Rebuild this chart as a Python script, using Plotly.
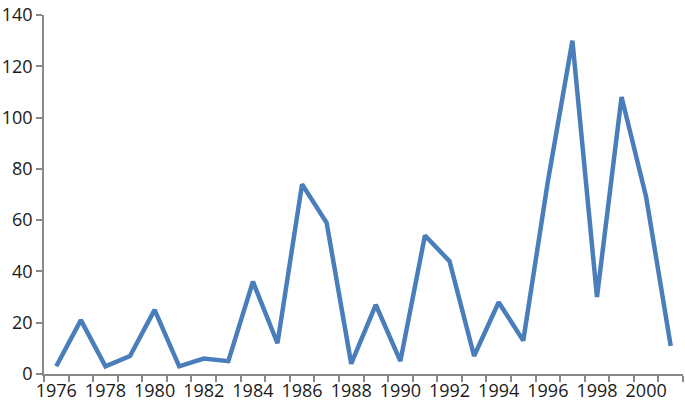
import plotly.graph_objects as go

years = list(range(1976, 2002))
counts = [3, 21, 3, 7, 25, 3, 6, 5, 36, 12, 74, 59, 4, 27, 5, 54, 44, 7, 28, 13, 75, 130, 30, 108, 69, 11]
year_labels = list(range(1976, 2001, 2))
y_ticks = list(range(0, 141, 20))

fig = go.Figure()
fig.add_trace(go.Scatter(x=years, y=counts, mode="lines",
                         line=dict(color="#4a7ebb", width=4.5), cliponaxis=False))

fig.update_layout(
    width=685, height=407,
    margin=dict(l=42, r=2, t=13, b=33),
    paper_bgcolor="white", plot_bgcolor="white",
    showlegend=False,
    font=dict(family="Open Sans", size=18, color="#1a1a1a"),
)
fig.update_xaxes(
    range=[years[0] - 0.5, years[-1] + 0.5],
    tickmode="array", tickvals=year_labels, ticks="",
    showgrid=False, zeroline=False,
    showline=True, linecolor="#888888", linewidth=1.5,
    minor=dict(tickmode="array", tickvals=[y - 0.5 for y in years] + [years[-1] + 0.5],
               ticks="outside", ticklen=6, tickcolor="#888888", tickwidth=1.5),
)
fig.update_yaxes(
    range=[0, 140], tickmode="array", tickvals=y_ticks,
    ticks="outside", ticklen=6, tickcolor="#888888", tickwidth=1.5,
    showgrid=False, zeroline=False,
    showline=True, linecolor="#888888", linewidth=1.5,
)

# drop the default page margin so the figure sits at the window's corner
fig.write_html("out.html", config={"displayModeBar": False},
               post_script="document.body.style.margin='0';")
